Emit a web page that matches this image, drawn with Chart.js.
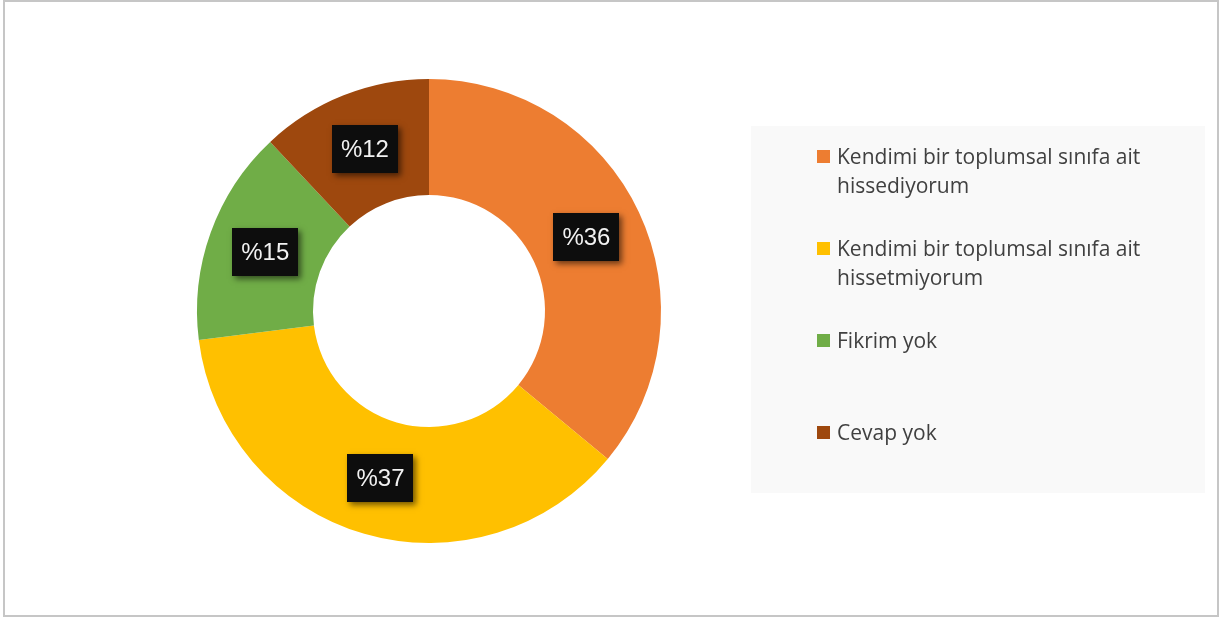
<!DOCTYPE html>
<html lang="tr">
<head>
    <meta charset="UTF-8">
    <title>Toplumsal sınıf aidiyeti</title>
    <style>
        body { margin: 0; padding: 0; background: #fff; }
        #wrap { width: 1222px; height: 618px; position: relative; }
    </style>
</head>
<body>
    <div id="wrap"><canvas id="pieChart"></canvas></div>

    <script src="https://cdn.jsdelivr.net/npm/chart.js"></script>
    <script>
        // data
        const labels = [
            'Kendimi bir toplumsal sınıfa ait hissediyorum',
            'Kendimi bir toplumsal sınıfa ait hissetmiyorum',
            'Fikrim yok',
            'Cevap yok'
        ];
        const values = [36, 37, 15, 12];
        const colors = ['#ED7D31', '#FFC000', '#70AD47', '#9E480E'];

        // frame around the whole chart
        const framePlugin = {
            id: 'frame',
            beforeDraw(chart) {
                const c = chart.ctx;
                c.save();
                c.fillStyle = '#fff';
                c.fillRect(0, 0, chart.width, chart.height);
                c.strokeStyle = '#c6c6c6';
                c.lineWidth = 2;
                c.strokeRect(4, 1, 1214, 615);
                c.restore();
            }
        };

        // black value boxes on each slice
        const valueBoxes = {
            id: 'valueBoxes',
            afterDatasetsDraw(chart) {
                const c = chart.ctx;
                const meta = chart.getDatasetMeta(0);
                c.save();
                c.font = '24px "Liberation Sans", Arial, sans-serif';
                c.textAlign = 'center';
                c.textBaseline = 'middle';
                meta.data.forEach((arc, i) => {
                    const p = arc.tooltipPosition();
                    const w = 66, h = 48;
                    c.save();
                    c.shadowColor = 'rgba(0,0,0,0.55)';
                    c.shadowBlur = 6;
                    c.shadowOffsetX = 3;
                    c.shadowOffsetY = 3;
                    c.fillStyle = '#0d0d0d';
                    c.fillRect(Math.round(p.x - w / 2), Math.round(p.y - h / 2), w, h);
                    c.restore();
                    c.fillStyle = '#f2f2f2';
                    c.fillText('%' + values[i], p.x, p.y + 1);
                });
                c.restore();
            }
        };

        // legend drawn by hand so long labels can wrap
        const sideLegend = {
            id: 'sideLegend',
            afterDraw(chart) {
                const c = chart.ctx;
                c.save();
                c.fillStyle = '#f9f9f9';
                c.fillRect(751, 126, 454, 367);
                c.font = '21px "Open Sans", Lato, sans-serif';
                c.textBaseline = 'middle';
                const maxW = 340;
                chart.data.labels.forEach((lab, i) => {
                    const y = 158 + i * 92;
                    c.fillStyle = chart.data.datasets[0].backgroundColor[i];
                    c.fillRect(817, y - 8, 13, 13);
                    // word wrap
                    const words = lab.split(' ');
                    const lines = [];
                    let line = '';
                    words.forEach(wd => {
                        const t = line ? line + ' ' + wd : wd;
                        if (c.measureText(t).width > maxW && line) {
                            lines.push(line);
                            line = wd;
                        } else {
                            line = t;
                        }
                    });
                    lines.push(line);
                    c.fillStyle = '#404040';
                    lines.forEach((ln, k) => c.fillText(ln, 837, y + k * 29));
                });
                c.restore();
            }
        };

        const ctx = document.getElementById('pieChart').getContext('2d');
        new Chart(ctx, {
            type: 'doughnut',
            data: {
                labels: labels,
                datasets: [{
                    data: values,
                    backgroundColor: colors,
                    borderWidth: 0
                }]
            },
            options: {
                responsive: true,
                maintainAspectRatio: false,
                animation: false,
                cutout: '50%',
                layout: {
                    padding: { left: 197, right: 561, top: 79, bottom: 75 }
                },
                plugins: {
                    legend: { display: false },
                    tooltip: { enabled: false }
                }
            },
            plugins: [framePlugin, valueBoxes, sideLegend]
        });
    </script>
</body>
</html>
